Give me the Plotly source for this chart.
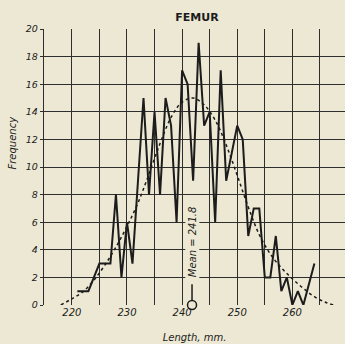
import plotly.graph_objects as go

# Femur length frequency polygon (mm) with fitted normal curve
lengths = [221, 222, 223, 224, 225, 226, 227, 228, 229, 230,
           231, 232, 233, 234, 235, 236, 237, 238, 239, 240,
           241, 242, 243, 244, 245, 246, 247, 248, 249, 250,
           251, 252, 253, 254, 255, 256, 257, 258, 259, 260,
           261, 262, 264]
frequency = [1, 1, 1, 2, 3, 3, 3, 8, 2, 6,
             3, 9, 15, 8, 14, 8, 15, 13, 6, 17,
             16, 9, 19, 13, 14, 6, 17, 9, 11, 13,
             12, 5, 7, 7, 2, 2, 5, 1, 2, 0,
             1, 0, 3]

# Normal curve readings
curve_x = [218, 220, 222, 224, 226, 228, 230, 232, 234, 236, 238, 240, 242,
           244, 246, 248, 250, 252, 254, 256, 258, 260, 262, 264, 266, 267.5]
curve_y = [0, 0.45, 0.95, 1.8, 2.9, 4.2, 5.7, 7.4, 9.5, 11.7, 13.6, 14.7, 15.0,
           14.5, 13.4, 11.6, 9.4, 7.1, 5.1, 3.7, 2.7, 1.9, 1.2, 0.6, 0.2, 0]

mean_value = 241.8
mean_label = "Mean = 241.8"
title_text = "FEMUR"
x_title = "Length, mm."
y_title = "Frequency"
x_ticks = [215, 220, 225, 230, 235, 240, 245, 250, 255, 260, 265]
x_ticklabels = ["", "220", "", "230", "", "240", "", "250", "", "260", ""]
y_ticks = [0, 2, 4, 6, 8, 10, 12, 14, 16, 18, 20]

BG = "#ECE8D3"
INK = "#1c1c1c"
GRID = "#2e2e2e"
FONT = "DejaVu Sans"

fig = go.Figure()

fig.add_trace(go.Scatter(
    x=curve_x, y=curve_y, mode="lines", line_shape="spline",
    line=dict(color=INK, width=1.5, dash="3px,3px"),
    hoverinfo="skip", showlegend=False))

fig.add_trace(go.Scatter(
    x=lengths, y=frequency, mode="lines",
    line=dict(color=INK, width=2),
    showlegend=False))

# Mean marker: short stem with an open circle on the baseline
fig.add_trace(go.Scatter(
    x=[mean_value, mean_value], y=[0, 1.5], mode="lines",
    line=dict(color=INK, width=1.5), showlegend=False, hoverinfo="skip"))
fig.add_trace(go.Scatter(
    x=[mean_value], y=[0], mode="markers",
    marker=dict(symbol="circle", size=9, color=BG,
                line=dict(color=INK, width=1.5)),
    showlegend=False, cliponaxis=False))

fig.add_annotation(
    x=mean_value, y=4.55, text=mean_label, textangle=-90, showarrow=False,
    font=dict(family=FONT, size=10, color=INK, style="italic"),
    bgcolor=BG, borderpad=1)

# Y-axis title placed as a free annotation, sitting above the plot's middle
fig.add_annotation(
    xref="paper", yref="paper", x=-0.105, y=0.59, xanchor="center",
    yanchor="middle", text=y_title, textangle=-90, showarrow=False,
    font=dict(family=FONT, size=10, color=INK, style="italic"))

fig.update_layout(
    width=345, height=344,
    margin=dict(l=44, r=0, t=29, b=39),
    paper_bgcolor=BG, plot_bgcolor=BG,
    title=dict(text=f"<b>{title_text}</b>", x=197 / 345, xanchor="center",
               y=1 - 17 / 344, yanchor="middle",
               font=dict(family=FONT, size=11, color=INK)),
    font=dict(family=FONT, color=INK),
)

fig.update_xaxes(
    range=[214.95, 269.55], tickvals=x_ticks, ticktext=x_ticklabels,
    showgrid=True, gridcolor=GRID, gridwidth=1.4,
    zeroline=False, showline=False, ticks="",
    tickfont=dict(family=FONT, size=10, style="italic", color=INK),
    title=dict(text=x_title, standoff=16,
               font=dict(family=FONT, size=10, style="italic", color=INK)),
)
fig.update_yaxes(
    range=[0, 20], tickvals=y_ticks,
    showgrid=True, gridcolor=GRID, gridwidth=1.4,
    zeroline=False, showline=True, linecolor=GRID, linewidth=1.4,
    ticks="outside", ticklen=3, tickcolor=GRID, tickwidth=1.2,
    tickfont=dict(family=FONT, size=9.5, style="italic", color=INK),
)

fig.write_html("out.html")
